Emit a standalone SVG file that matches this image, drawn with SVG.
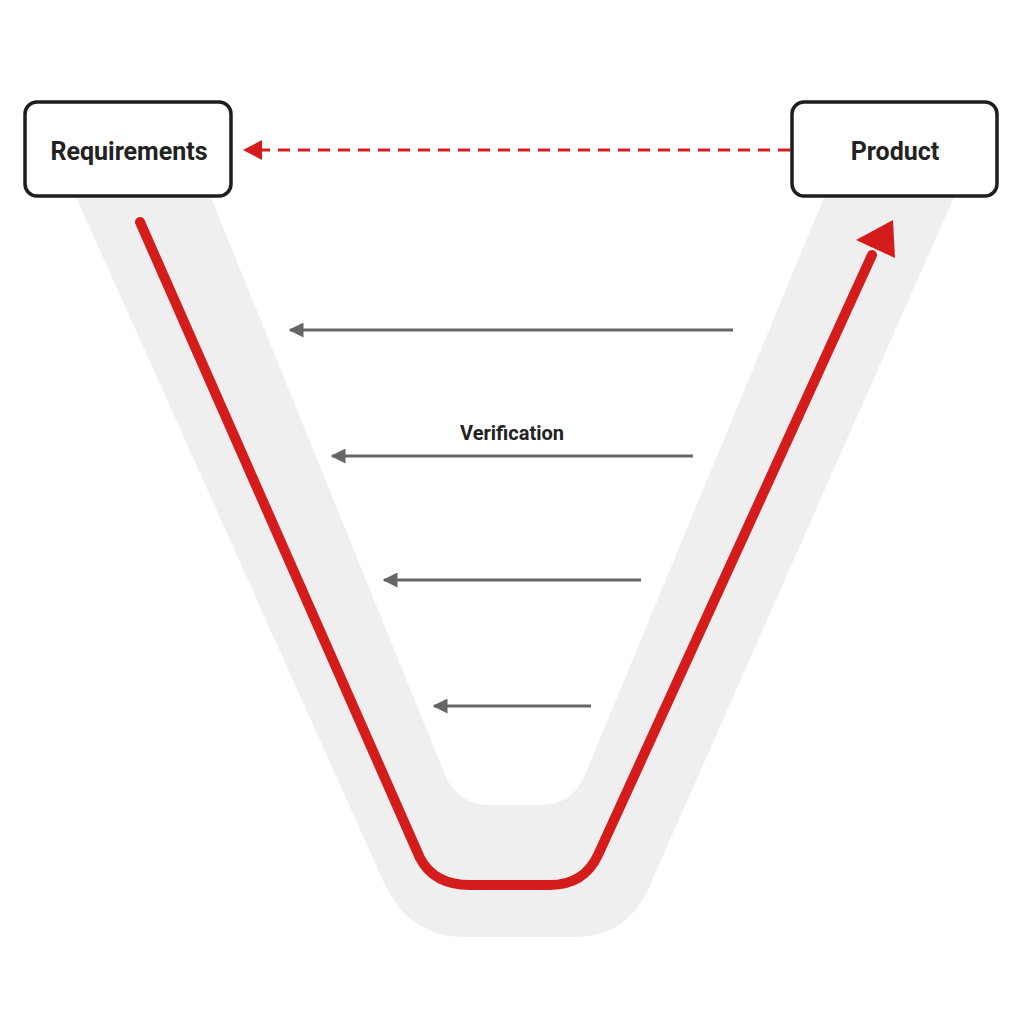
<svg xmlns="http://www.w3.org/2000/svg" width="1024" height="1024" viewBox="0 0 1024 1024">
<style>
.box{fill:#fff;stroke:#1e1e1e;stroke-width:3.5}
.lbl{font-family:"Roboto","Liberation Sans",sans-serif;font-weight:bold;font-size:25px;fill:#222;text-anchor:middle}
.ga{stroke:#666;stroke-width:3;fill:none;marker-end:url(#gh)}
</style>
<defs>
<marker id="gh" viewBox="0 0 10 10" refX="9" refY="5" markerWidth="5" markerHeight="5" orient="auto"><path d="M0,0L10,5L0,10Z" fill="#666"/></marker>
</defs>
<rect width="1024" height="1024" fill="#fff"/>
<path id="band" d="M75,195 L385,885 Q410,937 465,937 L575,937 Q628,937 650,885 L955,195 L825,195 L585,775 Q572,805 540,805 L490,805 Q458,805 445,775 L210,195 Z" fill="#efefef"/>
<g id="connectors">
<path d="M140,222 L420,858 Q434,885 470,885 L550,885 Q584,885 598,855 L872,255" stroke="#d41c1c" stroke-width="10" fill="none" stroke-linecap="round"/>
<path d="M893,220 L895,258 L856,240 Z" fill="#d41c1c"/>
<line x1="790" y1="150" x2="262" y2="150" stroke="#d41c1c" stroke-width="3" stroke-dasharray="12,8"/>
<path d="M243,150 L262,140 L262,160 Z" fill="#d41c1c"/>
<line class="ga" x1="733" y1="330" x2="290" y2="330"/>
<line class="ga" x1="693" y1="456" x2="332" y2="456"/>
<line class="ga" x1="641" y1="580" x2="384" y2="580"/>
<line class="ga" x1="591" y1="706" x2="434" y2="706"/>
<text x="512" y="440" class="lbl" style="font-size:20px">Verification</text>
</g>
<g id="requirements"><rect class="box" x="25" y="102" width="206" height="94" rx="12"/><text class="lbl" x="129" y="160">Requirements</text></g>
<g id="product"><rect class="box" x="792" y="102" width="205" height="94" rx="12"/><text class="lbl" x="895" y="160">Product</text></g>
</svg>
